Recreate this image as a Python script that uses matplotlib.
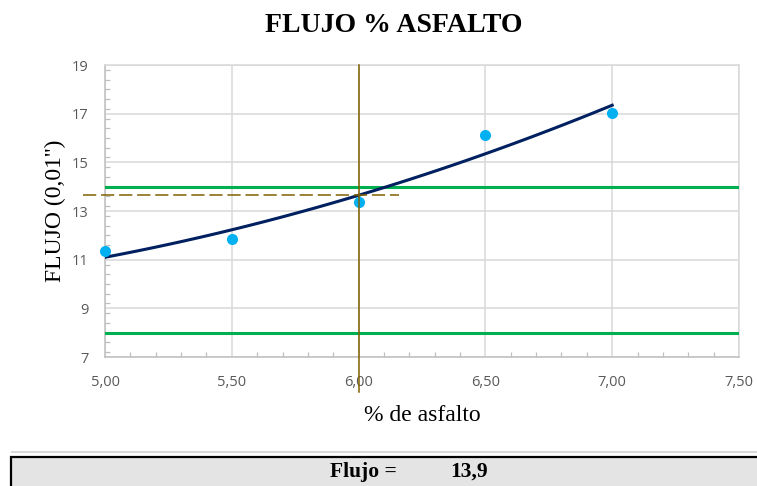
import numpy as np
import matplotlib
matplotlib.use("Agg")
import matplotlib.pyplot as plt
from matplotlib.ticker import MultipleLocator
from matplotlib.patches import Rectangle
from matplotlib.lines import Line2D

# datos
asfalto = [5.0, 5.5, 6.0, 6.5, 7.0]
flujo = [11.34, 11.84, 13.36, 16.12, 17.01]
lim_sup = 14
lim_inf = 8
asfalto_opt = 6.0
flujo_opt_linea = 13.65
flujo_result = "13,9"

x_ticks = [5.0, 5.5, 6.0, 6.5, 7.0, 7.5]
x_labels = ["5,00", "5,50", "6,00", "6,50", "7,00", "7,50"]
y_ticks = [7, 9, 11, 13, 15, 17, 19]
y_labels = ["7", "9", "11", "13", "15", "17", "19"]

plt.rcParams["lines.scale_dashes"] = False
serif = "Liberation Serif"
tick_font = "Open Sans"
grid_c = "#d9d9d9"
axis_c = "#bfbfbf"
brown = "#806000"

fig = plt.figure(figsize=(7.57, 4.86), dpi=100)
ax = fig.add_axes([105 / 757, 1 - 357 / 486, (739 - 105) / 757, (357 - 65) / 486])

# linea de tendencia polinomica (grado 2), como en Excel
coef = np.polyfit(asfalto, flujo, 2)
xs = np.linspace(asfalto[0], asfalto[-1], 100)
ax.plot(xs, np.polyval(coef, xs), color="#002060", lw=2.2, zorder=4)

ax.axhline(lim_sup, color="#00b050", lw=2.2, zorder=3)
ax.axhline(lim_inf, color="#00b050", lw=2.2, zorder=3)

ax.plot(asfalto, flujo, "o", color="#00b0f0", ms=8, mec="none", zorder=5,
        clip_on=False)

# lineas guia
ax.plot([asfalto_opt, asfalto_opt], [19, 5.57], color=brown, lw=1.1,
        clip_on=False, zorder=6)
ax.plot([4.913, 6.158], [flujo_opt_linea, flujo_opt_linea], color=brown,
        lw=1.1, dashes=(9.5, 3.5), clip_on=False, zorder=6)

ax.set_xlim(5.0, 7.5)
ax.set_ylim(7, 19)
ax.set_xticks(x_ticks)
ax.set_xticklabels(x_labels)
ax.set_yticks(y_ticks)
ax.set_yticklabels(y_labels)
ax.xaxis.set_minor_locator(MultipleLocator(0.1))
ax.yaxis.set_minor_locator(MultipleLocator(0.4))
ax.tick_params(which="major", length=0, labelsize=10.5, labelcolor="#595959")
ax.tick_params(axis="x", which="major", pad=13)
ax.tick_params(axis="y", which="major", pad=12)
ax.tick_params(which="minor", direction="in", length=3.5, width=0.9, color=axis_c)
for lab in ax.get_xticklabels() + ax.get_yticklabels():
    lab.set_fontfamily(tick_font)

ax.grid(True, which="major", color=grid_c, lw=1.1)
ax.set_axisbelow(True)
for s in ["left", "bottom"]:
    ax.spines[s].set_color(axis_c)
    ax.spines[s].set_linewidth(1.1)
for s in ["top", "right"]:
    ax.spines[s].set_color(grid_c)
    ax.spines[s].set_linewidth(1.1)

ax.set_xlabel("% de asfalto", fontfamily=serif, fontsize=17, labelpad=11)
ax.set_ylabel("FLUJO (0,01'')", fontfamily=serif, fontsize=17, labelpad=4)

fig.text(394 / 757, 1 - 25 / 486, "FLUJO % ASFALTO", fontfamily=serif,
         fontsize=20, fontweight="bold", ha="center", va="center")

# borde del area del grafico y celda de resultado
fig.add_artist(Line2D([12 / 757, 1], [1 - 452 / 486] * 2, color="#d9d9d9",
                      lw=1.5, transform=fig.transFigure))
fig.add_artist(Rectangle((11 / 757, -0.05), 1.0, (486 - 457) / 486 + 0.05,
                         transform=fig.transFigure, facecolor="#e4e4e4",
                         edgecolor="black", lw=1.6, clip_on=False))
fig.text(363 / 757, 1 - 472 / 486, "Flujo =", fontfamily=serif, fontsize=15.5,
         fontweight="bold", ha="center", va="center")
fig.text(469 / 757, 1 - 472 / 486, flujo_result, fontfamily=serif, fontsize=15.5,
         fontweight="bold", ha="center", va="center")

fig.savefig("out.png", dpi=100)
